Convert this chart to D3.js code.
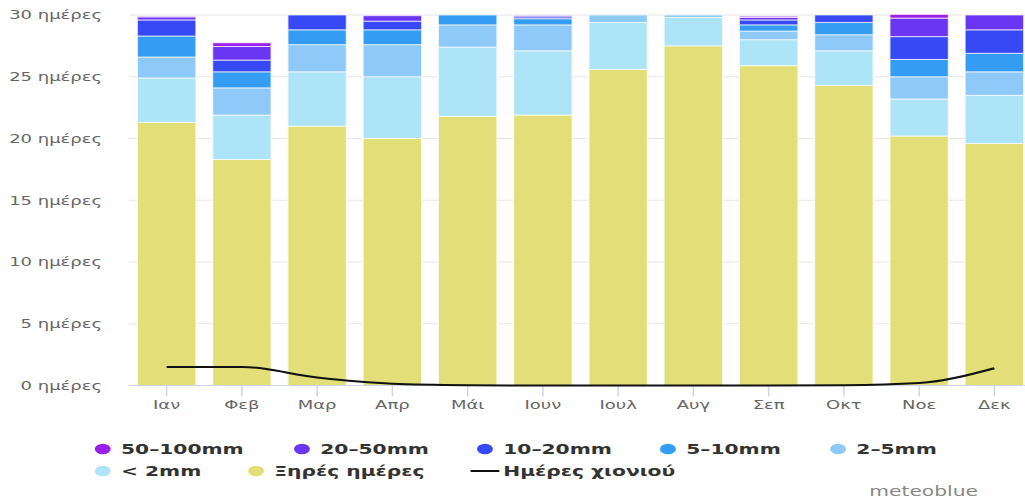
<!DOCTYPE html>
<html>
<head>
<meta charset="utf-8">
<script src="https://cdn.jsdelivr.net/npm/d3@7"></script>
<style>
  html, body { margin: 0; padding: 0; background: #fff; }
  svg { display: block; }
</style>
</head>
<body>
<svg id="chart"></svg>
<script>
// ---------- DATA ----------
const months = ["Ιαν","Φεβ","Μαρ","Απρ","Μάι","Ιουν","Ιουλ","Αυγ","Σεπ","Οκτ","Νοε","Δεκ"];
const dryDays   = [21.3, 18.3, 21.0, 20.0, 21.8, 21.9, 25.6, 27.5, 25.9, 24.3, 20.2, 19.6];
const lt2mm     = [3.6, 3.6, 4.4, 5.0, 5.6, 5.2, 3.8, 2.3, 2.1, 2.8, 3.0, 3.9];
const mm2to5    = [1.7, 2.2, 2.2, 2.6, 1.8, 2.1, 0.6, 0.2, 0.7, 1.3, 1.8, 1.9];
const mm5to10   = [1.7, 1.3, 1.2, 1.2, 0.8, 0.5, 0, 0, 0.5, 1.0, 1.4, 1.5];
const mm10to20  = [1.3, 0.95, 1.2, 0.7, 0, 0.15, 0, 0, 0.4, 0.6, 1.85, 1.9];
const mm20to50  = [0.25, 1.1, 0, 0.45, 0, 0.1, 0, 0, 0.2, 0, 1.5, 1.2];
const mm50to100 = [0.05, 0.3, 0, 0.05, 0, 0, 0, 0, 0.1, 0, 0.3, 0];
const snowDays  = [1.5, 1.5, 0.65, 0.15, 0.03, 0, 0, 0, 0, 0.02, 0.2, 1.4];
const yTicks    = [0, 5, 10, 15, 20, 25, 30];
const yUnit     = "ημέρες";

const seriesKeys   = ["dry","lt2","m2_5","m5_10","m10_20","m20_50","m50_100"];
const seriesValues = [dryDays, lt2mm, mm2to5, mm5to10, mm10to20, mm20to50, mm50to100];
const seriesNames  = ["Ξηρές ημέρες","< 2mm","2–5mm","5–10mm","10–20mm","20–50mm","50–100mm"];
const seriesColors = ["#e3df78","#ade4f7","#8ec9f9","#359cf3","#3748f5","#6a35f3","#9b1fe8"];
const snowName = "Ημέρες χιονιού";

// ---------- LAYOUT ----------
const W = 1025, H = 503, SX = 1.5;
const VW = W / SX;
const svg = d3.select("#chart")
  .attr("width", W).attr("height", H)
  .attr("viewBox", `0 0 ${VW} ${H}`)
  .attr("preserveAspectRatio", "none");

const plotLeft = 86, plotRight = 688;
const x = d3.scaleBand().domain(months).range([plotLeft, plotRight])
  .paddingInner(0.22).paddingOuter(0.11);
const y = d3.scaleLinear().domain([0, 30]).range([385.5, 15]);

// gridlines
svg.append("g").selectAll("line").data(yTicks.filter(t => t > 0)).join("line")
  .attr("x1", plotLeft).attr("x2", VW)
  .attr("y1", d => y(d)).attr("y2", d => y(d))
  .attr("stroke", "#e6e6e6").attr("stroke-width", 1);

// stacked bars
const rows = months.map((m, i) => {
  const r = { month: m };
  seriesKeys.forEach((k, j) => r[k] = seriesValues[j][i]);
  return r;
});
const stack = d3.stack().keys(seriesKeys)(rows);
svg.append("g").selectAll("g").data(stack).join("g")
  .attr("fill", (d, i) => seriesColors[i])
  .selectAll("rect").data(d => d.filter(s => s[1] - s[0] > 0)).join("rect")
  .attr("x", d => x(d.data.month))
  .attr("width", x.bandwidth())
  .attr("y", d => y(d[1]))
  .attr("height", d => y(d[0]) - y(d[1]))
  .attr("stroke", "#ffffff").attr("stroke-opacity", 0.7).attr("stroke-width", 1);

// x axis
const xAxis = svg.append("g").attr("transform", `translate(0,${y(0)})`)
  .call(d3.axisBottom(x).tickSize(11).tickSizeOuter(0).tickPadding(4));
xAxis.select(".domain").remove();
xAxis.append("line").attr("x1", plotLeft).attr("x2", VW).attr("y1", 0).attr("y2", 0)
  .attr("stroke", "#ccd6eb").attr("stroke-width", 1);
xAxis.selectAll(".tick line").attr("stroke", "#ccd6eb").attr("stroke-width", 1);
xAxis.selectAll(".tick text")
  .attr("font-family", "DejaVu Sans").attr("font-size", 12).attr("fill", "#666")
  .attr("y", 0).attr("dy", null).attr("transform", "translate(0,23.5)");

// y axis
const yAxis = svg.append("g").attr("transform", `translate(68,0)`)
  .call(d3.axisLeft(y).tickValues(yTicks).tickSize(0).tickPadding(0)
    .tickFormat(d => `${d} ${yUnit}`));
yAxis.select(".domain").remove();
yAxis.selectAll(".tick text")
  .attr("font-family", "DejaVu Sans").attr("font-size", 12).attr("fill", "#666");

// snow line
const line = d3.line()
  .x((d, i) => x(months[i]) + x.bandwidth() / 2)
  .y(d => y(d))
  .curve(d3.curveMonotoneX);
svg.append("path").datum(snowDays)
  .attr("d", line).attr("fill", "none")
  .attr("stroke", "#111").attr("stroke-width", 2);

// legend
const legendItems = [
  { name: seriesNames[6], color: seriesColors[6], type: "dot", x: 68.5, row: 0 },
  { name: seriesNames[5], color: seriesColors[5], type: "dot", x: 201.3, row: 0 },
  { name: seriesNames[4], color: seriesColors[4], type: "dot", x: 323.3, row: 0 },
  { name: seriesNames[3], color: seriesColors[3], type: "dot", x: 445.3, row: 0 },
  { name: seriesNames[2], color: seriesColors[2], type: "dot", x: 558.7, row: 0 },
  { name: seriesNames[1], color: seriesColors[1], type: "dot", x: 68.5, row: 1 },
  { name: seriesNames[0], color: seriesColors[0], type: "dot", x: 170.7, row: 1 },
  { name: snowName, color: "#111", type: "line", x: 323.3, row: 1 }
];
const rowY = [449, 471];
const lg = svg.append("g");
legendItems.forEach(it => {
  const cy = rowY[it.row];
  if (it.type === "dot") {
    lg.append("circle").attr("cx", it.x).attr("cy", cy).attr("r", 5.3).attr("fill", it.color);
  } else {
    lg.append("line").attr("x1", it.x - 9.6).attr("x2", it.x + 9.6)
      .attr("y1", cy).attr("y2", cy).attr("stroke", it.color).attr("stroke-width", 2);
  }
  lg.append("text").attr("x", it.x + 12.2).attr("y", cy + 5)
    .attr("font-family", "DejaVu Sans").attr("font-weight", "bold")
    .attr("font-size", 13.5).attr("fill", "#333").text(it.name);
});

// credit
svg.append("text").attr("x", 652).attr("y", 496.5).attr("text-anchor", "end")
  .attr("font-family", "DejaVu Sans").attr("font-size", 13.5).attr("fill", "#888")
  .text("meteoblue");
</script>
</body>
</html>
